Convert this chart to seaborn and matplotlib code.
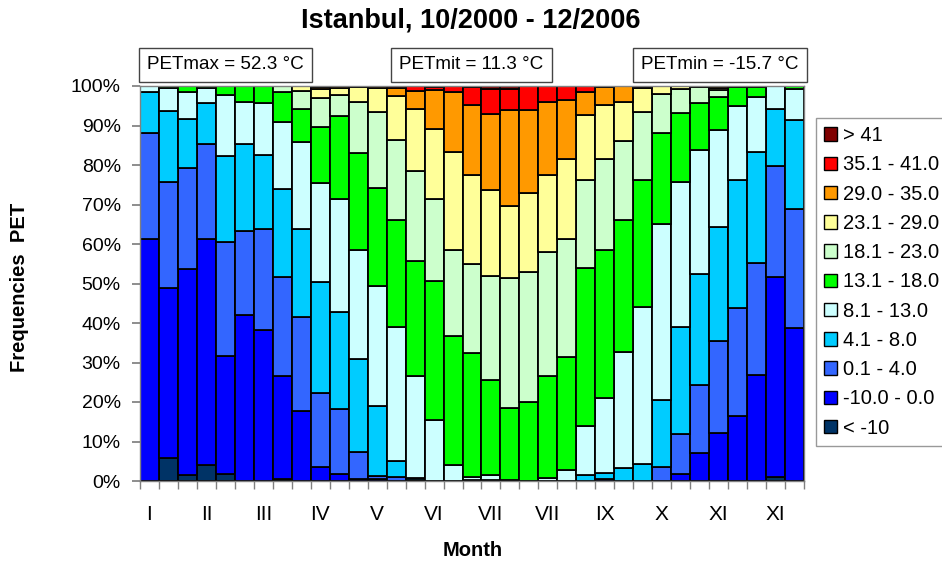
import numpy as np
import pandas as pd
import matplotlib.pyplot as plt
import seaborn as sns
from matplotlib.patches import Patch
from matplotlib.ticker import PercentFormatter

# PET classes, top of the stack first (same order as the legend)
classes = ["> 41", "35.1 - 41.0", "29.0 - 35.0", "23.1 - 29.0", "18.1 - 23.0",
           "13.1 - 18.0", "8.1 - 13.0", "4.1 - 8.0", "0.1 - 4.0", "-10.0 - 0.0", "< -10"]
colors = ["#800000", "#FF0000", "#FF9900", "#FFFF99", "#CCFFCC", "#00FF00",
          "#CCFFFF", "#00CCFF", "#3366FF", "#0000FF", "#003366"]

month_labels = ["I", "II", "III", "IV", "V", "VI", "VII", "VII", "IX", "X", "XI", "XI"]

# frequencies in % per decade (35 bars)
gt41 = [0, 0, 0, 0, 0, 0, 0, 0, 0, 0,
        0, 0, 0, 0, 0, 0.3, 0, 0.3, 0.8, 0.8,
        0, 0, 0, 0, 0, 0, 0, 0, 0, 0,
        0, 0, 0, 0, 0]
p351_41 = [0, 0, 0, 0, 0, 0, 0, 0, 0, 0.3,
           0, 0, 0, 0.5, 1.2, 0.6, 1.6, 4.5, 6.3, 5.3,
           6.1, 4.0, 3.6, 1.6, 0.3, 0, 0.3, 0, 0, 0,
           0, 0, 0, 0, 0]
p29_35 = [0, 0, 0, 0, 0, 0, 0, 0, 0, 0.5,
          0.4, 0.3, 0.6, 2.1, 4.5, 10.0, 15.1, 17.8, 19.3, 24.4,
          21.1, 18.6, 14.9, 5.8, 4.5, 4.0, 0.3, 0, 0, 0,
          0.5, 0, 0, 0, 0]
p231_29 = [0, 0, 0, 0, 0, 0, 0, 0, 1.2, 2.2,
           1.9, 3.7, 5.9, 11.0, 15.8, 17.8, 24.7, 22.4, 21.7, 18.1,
           19.9, 19.4, 20.2, 16.4, 13.7, 10.0, 5.9, 1.9, 0.8, 0.3,
           0.5, 0, 0, 0, 0]
p181_23 = [0, 0, 0, 0, 0, 0, 0, 1.4, 4.5, 7.5,
           5.4, 13.0, 19.2, 20.3, 22.8, 20.7, 22.0, 22.6, 26.3, 33.0,
           33.0, 31.5, 30.0, 22.3, 22.9, 20.0, 17.3, 9.9, 6.1, 4.0,
           1.9, 0.3, 0.3, 0, 0]
p131_18 = [0, 0.5, 1.4, 0.5, 2.2, 4.0, 4.3, 7.7, 8.6, 14.0,
           20.8, 24.4, 25.0, 27.2, 29.1, 35.1, 32.5, 31.4, 24.1, 18.1,
           19.9, 25.7, 28.5, 40.1, 37.6, 33.4, 32.2, 23.1, 17.4, 11.9,
           8.3, 4.7, 2.6, 0, 0.8]
p81_13 = [1.6, 5.8, 6.9, 3.9, 15.5, 10.6, 13.2, 17.0, 21.8, 25.1,
          28.8, 27.6, 30.3, 33.8, 25.8, 15.5, 4.1, 0.8, 1.2, 0.3,
          0, 0.8, 2.8, 12.3, 19.1, 29.2, 39.8, 44.7, 36.8, 31.3,
          24.4, 18.9, 13.8, 5.7, 7.7]
p41_8 = [10.3, 18.0, 12.4, 10.2, 21.8, 22.1, 18.6, 22.2, 22.4, 28.1,
         24.5, 23.6, 17.7, 4.1, 0.5, 0, 0, 0.2, 0.3, 0,
         0, 0, 0, 1.5, 1.4, 3.4, 4.2, 16.8, 27.1, 28.3,
         28.9, 32.4, 28.1, 14.5, 22.7]
p01_4 = [26.9, 26.9, 25.7, 24.2, 28.9, 21.2, 25.7, 25.1, 23.9, 18.8,
         16.5, 6.9, 0.8, 1.0, 0.3, 0, 0, 0, 0, 0,
         0, 0, 0, 0, 0.5, 0, 0, 3.6, 10.1, 17.0,
         23.4, 27.2, 28.3, 28.1, 30.1]
m10_0 = [61.2, 43.0, 52.1, 57.1, 29.8, 42.1, 38.2, 26.2, 17.6, 3.5,
         1.7, 0.5, 0.5, 0, 0, 0, 0, 0, 0, 0,
         0, 0, 0, 0, 0, 0, 0, 0, 1.7, 7.2,
         12.1, 16.5, 26.9, 50.7, 38.7]
lt_m10 = [0, 5.8, 1.5, 4.1, 1.8, 0, 0, 0.4, 0, 0,
          0, 0, 0, 0, 0, 0, 0, 0, 0, 0,
          0, 0, 0, 0, 0, 0, 0, 0, 0, 0,
          0, 0, 0, 1.0, 0]

series = [gt41, p351_41, p29_35, p231_29, p181_23, p131_18,
          p81_13, p41_8, p01_4, m10_0, lt_m10]

rows = []
for cls, vals in zip(classes, series):
    for i, v in enumerate(vals):
        rows.append({"bar": i, "cls": cls, "pct": v})
df = pd.DataFrame(rows)

sns.set_theme(style="white")
plt.rcParams["font.family"] = ["Liberation Sans", "DejaVu Sans"]
plt.rcParams["text.color"] = "black"
plt.rcParams["xtick.color"] = "black"
plt.rcParams["ytick.color"] = "black"

fig = plt.figure(figsize=(9.42, 5.63), dpi=100)
ax = fig.add_axes([140 / 942, 1 - 481 / 563, 664 / 942, 395 / 563])

sns.histplot(data=df, x="bar", weights="pct", hue="cls", hue_order=classes,
             palette=dict(zip(classes, colors)), multiple="stack",
             discrete=True, shrink=1, alpha=1, edgecolor="black",
             linewidth=1.3, legend=False, ax=ax)

ax.set_xlim(-0.5, 34.5)
ax.set_ylim(0, 100)
ax.set_yticks(range(0, 101, 10))
ax.yaxis.set_major_formatter(PercentFormatter(decimals=0))
ax.set_xticks(range(0, 35, 3))
ax.set_xticklabels(month_labels)
ax.set_xticks(np.arange(-0.5, 35, 1), minor=True)
ax.tick_params(axis="x", which="major", length=0, pad=17, labelsize=15)
ax.tick_params(axis="x", which="minor", length=5.8, color="#808080", direction="out",
               bottom=True)
ax.tick_params(axis="y", length=5.8, color="#808080", direction="out", pad=8, labelsize=14,
               left=True)
ax.set_xlabel("")
ax.set_ylabel("")
for s in ax.spines.values():
    s.set_color("#808080")
    s.set_linewidth(1)

fig.text(0.5, 1 - 20 / 563, "Istanbul, 10/2000 - 12/2006", ha="center", va="center",
         fontsize=19.5, fontweight="bold")
fig.text(20 / 942, 1 - 287 / 563, "Frequencies  PET", rotation=90, ha="center",
         va="center", fontsize=14.5, fontweight="bold")
fig.text(473 / 942, 1 - 550 / 563, "Month", ha="center", va="center",
         fontsize=14.5, fontweight="bold")

boxes = [("PETmax = 52.3 °C", 225.5), ("PETmit = 11.3 °C", 471.5), ("PETmin = -15.7 °C", 720)]
for txt, xc in boxes:
    fig.text(xc / 942, 1 - 64.5 / 563, txt, ha="center", va="center", fontsize=13.6,
             bbox=dict(boxstyle="square,pad=0.45", fc="white", ec="#444444", lw=1))

# legend runs past the right edge of the figure, as in the original
handles = [Patch(facecolor=c, edgecolor="black", linewidth=1) for c in colors]
leg = fig.legend(handles, classes, loc="upper left", mode="expand",
                 bbox_to_anchor=(816 / 942, 1 - 118 / 563, 0.2, 0), fontsize=14.5,
                 frameon=True, fancybox=False, borderaxespad=0,
                 handlelength=0.65, handleheight=0.65, handletextpad=0.3,
                 labelspacing=0.51, borderpad=0.4)
leg.get_frame().set_edgecolor("#808080")
leg.get_frame().set_linewidth(1)

fig.savefig("out.png", dpi=100)
